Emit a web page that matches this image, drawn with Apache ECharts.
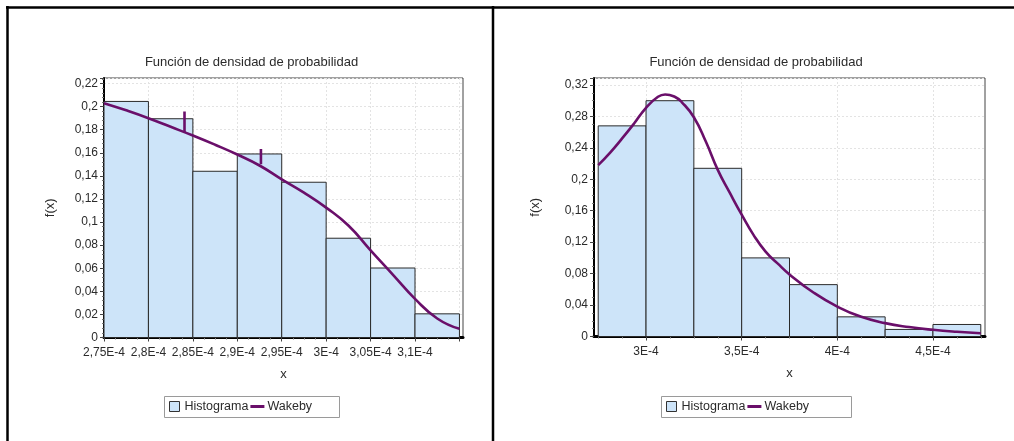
<!DOCTYPE html>
<html>
<head>
<meta charset="utf-8">
<script src="https://cdn.jsdelivr.net/npm/echarts@6/dist/echarts.min.js"></script>
<style>
  html, body { margin: 0; padding: 0; background: #fff; }
  #chart { width: 1014px; height: 441px; }
</style>
</head>
<body>
<div id="chart"></div>
<script>
// All x values are expressed in units of 1E-4 (labels append "E-4").

// Left panel: histogram bins and fitted Wakeby density
const leftBinEdges   = [2.75, 2.80, 2.85, 2.90, 2.95, 3.00, 3.05, 3.10, 3.15];
const leftBinHeights = [0.2045, 0.1895, 0.1440, 0.1590, 0.1345, 0.0860, 0.0602, 0.0205];
const leftCurveX = [2.75, 2.775, 2.80, 2.825, 2.85, 2.875, 2.90, 2.925, 2.95, 2.975, 3.00, 3.025, 3.05, 3.075, 3.10, 3.125, 3.15];
const leftCurveY = [0.2030, 0.1968, 0.1900, 0.1825, 0.1750, 0.1670, 0.1585, 0.1490, 0.1370, 0.1255, 0.1125, 0.0970, 0.0755, 0.0545, 0.0335, 0.0165, 0.0075];
// short vertical glitches drawn on the left curve
const leftSpikeA = [[2.8406, 0.1775], [2.8406, 0.1958]];
const leftSpikeB = [[2.9266, 0.1500], [2.9266, 0.1634]];
const leftXLabels = [2.75, 2.80, 2.85, 2.90, 2.95, 3.00, 3.05, 3.10];
const leftXMajor  = [2.75, 2.80, 2.85, 2.90, 2.95, 3.00, 3.05, 3.10, 3.15];
const leftXMinor  = [2.7625, 2.775, 2.7875, 2.8125, 2.825, 2.8375, 2.8625, 2.875, 2.8875,
                     2.9125, 2.925, 2.9375, 2.9625, 2.975, 2.9875, 3.0125, 3.025, 3.0375,
                     3.0625, 3.075, 3.0875, 3.1125, 3.125, 3.1375];

// Right panel: histogram bins and fitted Wakeby density
const rightBinEdges   = [2.75, 3.00, 3.25, 3.50, 3.75, 4.00, 4.25, 4.50, 4.75];
const rightBinHeights = [0.268, 0.300, 0.214, 0.100, 0.066, 0.025, 0.009, 0.0153];
const rightCurveX = [2.75, 2.8125, 2.875, 2.9375, 3.00, 3.0625, 3.10, 3.15, 3.1875, 3.25, 3.3125, 3.375, 3.4375, 3.50, 3.5625, 3.625, 3.6875, 3.75, 3.875, 4.00, 4.125, 4.25, 4.375, 4.50, 4.625, 4.75];
const rightCurveY = [0.218, 0.234, 0.252, 0.271, 0.291, 0.305, 0.308, 0.305, 0.298, 0.279, 0.248, 0.212, 0.183, 0.155, 0.129, 0.108, 0.093, 0.079, 0.056, 0.038, 0.025, 0.017, 0.012, 0.0085, 0.006, 0.0042];
const rightXMajor = [3.0, 3.5, 4.0, 4.5];
const rightXMinor = [2.75, 2.875, 3.125, 3.25, 3.375, 3.625, 3.75, 3.875, 4.125, 4.25, 4.375, 4.625, 4.75];

const TITLE = 'Función de densidad de probabilidad';
const FONT = '"Liberation Sans", Arial, sans-serif';
const INK = '#2b2b2b';
const CURVE = '#6a0f6a';
const FILL = '#cde4f9';
const GRIDLINE = { color: '#e3e3e3', type: [2, 2], width: 1 };

const yFmt = v => String(Math.round(v * 1000) / 1000).replace('.', ',');
const xFmt = v => String(Math.round(v * 1000) / 1000).replace('.', ',') + 'E-4';
const toBins = (edges, heights) => heights.map((h, i) => [edges[i], edges[i + 1], h]);
const toPoints = (xs, ys) => xs.map((x, i) => [x, ys[i]]);

function renderBin(params, api) {
  const top = api.coord([api.value(0), api.value(2)]);
  const base = api.coord([api.value(1), 0]);
  return {
    type: 'rect',
    shape: { x: top[0], y: top[1], width: base[0] - top[0], height: base[1] - top[1] },
    style: { fill: FILL, stroke: '#2a2a2a', lineWidth: 1 }
  };
}

const labelText = { color: INK, fontFamily: FONT, fontSize: 12 };
const nameText = { color: INK, fontFamily: FONT, fontSize: 13 };

function makeYAxis(gridIndex, max, interval, nameGap, minorSplit) {
  return {
    type: 'value', gridIndex, min: 0, max, interval,
    name: 'f(x)', nameLocation: 'middle', nameGap,
    nameTextStyle: { ...nameText },
    axisLine: { show: true, onZero: false, lineStyle: { color: '#000', width: 2 } },
    axisTick: { show: true, length: 4, lineStyle: { color: '#444' } },
    minorTick: { show: true, splitNumber: minorSplit, length: 2, lineStyle: { color: '#777' } },
    axisLabel: { ...labelText, margin: 6, formatter: yFmt, showMaxLabel: false },
    splitLine: { show: true, lineStyle: GRIDLINE },
    minorSplitLine: { show: false }
  };
}

function makeXAxis(gridIndex, min, max, major, labels) {
  return {
    type: 'value', gridIndex, min, max,
    name: 'x', nameLocation: 'middle', nameGap: 30, nameTextStyle: { ...nameText },
    axisLine: { show: true, onZero: false, lineStyle: { color: '#000', width: 3 } },
    axisTick: { show: true, length: 4, customValues: major, lineStyle: { color: '#444' } },
    axisLabel: { ...labelText, margin: 9, formatter: xFmt, customValues: labels },
    splitLine: { show: true, lineStyle: GRIDLINE }
  };
}

// an extra x axis on the same grid that only draws short minor ticks
function makeMinorXAxis(gridIndex, min, max, minor) {
  return {
    type: 'value', gridIndex, min, max, position: 'bottom',
    axisLine: { show: false },
    axisTick: { show: true, length: 2, customValues: minor, lineStyle: { color: '#777' } },
    axisLabel: { show: false },
    splitLine: { show: false }
  };
}

function curveSeries(name, xi, yi, data, smooth) {
  return {
    type: 'line', name, xAxisIndex: xi, yAxisIndex: yi, data,
    smooth, symbol: 'none', z: 5,
    lineStyle: { color: CURVE, width: 2.6 }, itemStyle: { color: CURVE }
  };
}

function histSeries(xi, yi, data) {
  return {
    type: 'custom', name: 'Histograma', xAxisIndex: xi, yAxisIndex: yi,
    data, encode: { x: [0, 1], y: 2 }, renderItem: renderBin,
    itemStyle: { color: FILL, borderColor: '#2a2a2a' }
  };
}

const legendItems = [
  { name: 'Histograma', icon: 'path://M0,0H10V10H0Z',
    itemStyle: { color: FILL, borderColor: '#333', borderWidth: 1 } },
  { name: 'Wakeby', icon: 'path://M0,0H14V3H0Z',
    itemStyle: { color: CURVE, borderWidth: 0 } }
];
const legendBase = {
  top: 400, padding: 0, itemWidth: 14, itemHeight: 10, itemGap: 2,
  selectedMode: false, data: legendItems,
  textStyle: { fontFamily: FONT, fontSize: 12.5, color: INK, padding: [0, 0, 0, -2] }
};

const chart = echarts.init(document.getElementById('chart'), null, { renderer: 'canvas' });

chart.setOption({
  animation: false,
  backgroundColor: '#fff',
  grid: [
    { left: 104, top: 78, width: 359, height: 259.5, show: true, borderColor: '#444', borderWidth: 1, outerBoundsMode: 'none' },
    { left: 594, top: 78, width: 391, height: 258.5, show: true, borderColor: '#444', borderWidth: 1, outerBoundsMode: 'none' }
  ],
  xAxis: [
    makeXAxis(0, 2.75, 3.154, leftXMajor, leftXLabels),
    makeMinorXAxis(0, 2.75, 3.154, leftXMinor),
    makeXAxis(1, 2.728, 4.772, rightXMajor, rightXMajor),
    makeMinorXAxis(1, 2.728, 4.772, rightXMinor)
  ],
  yAxis: [
    makeYAxis(0, 0.2248, 0.02, 47, 5),
    makeYAxis(1, 0.3289, 0.04, 52, 4)
  ],
  legend: [
    { ...legendBase, left: 169 },
    { ...legendBase, left: 666 }
  ],
  graphic: [
    // panel frame
    { type: 'line', z: 100, shape: { x1: 6, y1: 7.5, x2: 1014, y2: 7.5 }, style: { stroke: '#000', lineWidth: 2.5 } },
    { type: 'line', z: 100, shape: { x1: 7.5, y1: 6, x2: 7.5, y2: 441 }, style: { stroke: '#000', lineWidth: 2.5 } },
    { type: 'line', z: 100, shape: { x1: 493, y1: 6, x2: 493, y2: 441 }, style: { stroke: '#000', lineWidth: 2.5 } },
    // chart titles
    { type: 'text', x: 251.5, y: 62, style: { text: TITLE, align: 'center', verticalAlign: 'middle', fill: INK, font: '13px ' + FONT } },
    { type: 'text', x: 756, y: 62, style: { text: TITLE, align: 'center', verticalAlign: 'middle', fill: INK, font: '13px ' + FONT } },
    // legend frames
    { type: 'rect', z: -1, shape: { x: 164.5, y: 396.5, width: 175, height: 21 }, style: { fill: '#fff', stroke: '#9a9a9a', lineWidth: 1 } },
    { type: 'rect', z: -1, shape: { x: 661.5, y: 396.5, width: 190, height: 21 }, style: { fill: '#fff', stroke: '#9a9a9a', lineWidth: 1 } }
  ],
  series: [
    histSeries(0, 0, toBins(leftBinEdges, leftBinHeights)),
    curveSeries('Wakeby', 0, 0, toPoints(leftCurveX, leftCurveY), true),
    curveSeries('Wakeby', 0, 0, leftSpikeA, false),
    curveSeries('Wakeby', 0, 0, leftSpikeB, false),
    histSeries(2, 1, toBins(rightBinEdges, rightBinHeights)),
    curveSeries('Wakeby', 2, 1, toPoints(rightCurveX, rightCurveY), true)
  ]
});
</script>
</body>
</html>
